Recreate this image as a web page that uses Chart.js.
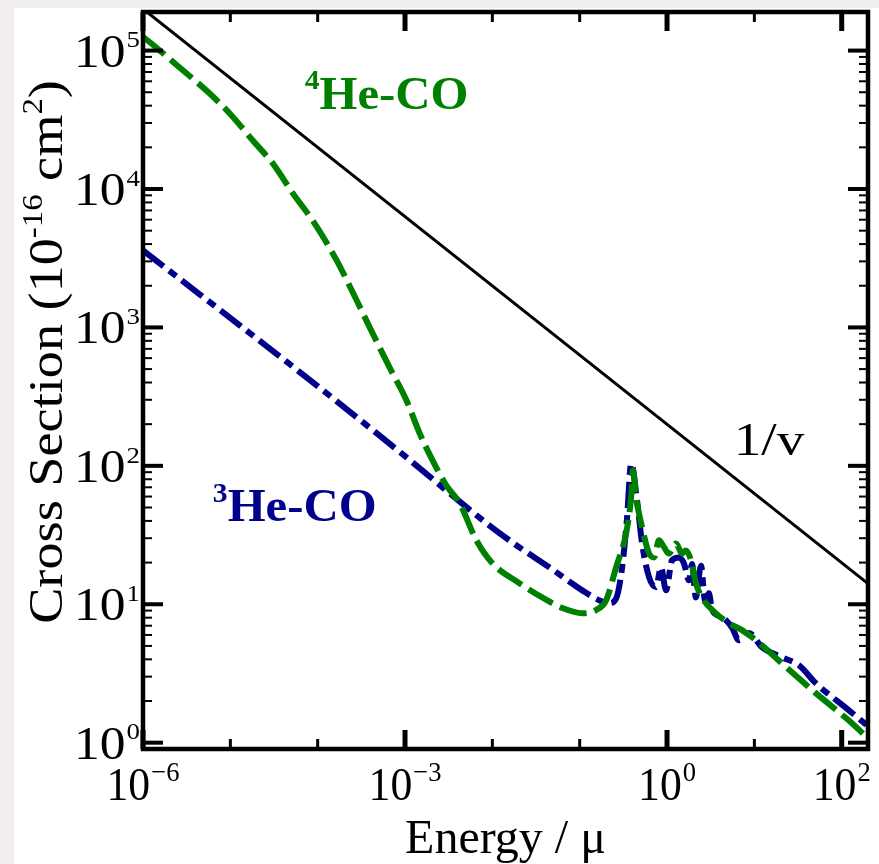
<!DOCTYPE html>
<html>
<head>
<meta charset="utf-8">
<script src="https://cdn.jsdelivr.net/npm/chart.js@4/dist/chart.umd.min.js"></script>
<style>
  body { margin: 0; background: #fff; }
  #wrap { width: 879px; height: 864px; }
</style>
</head>
<body>
<div id="wrap"><canvas id="xsChart" width="879" height="864"></canvas></div>
<script>
// Energy in units of mu, cross sections in 1e-16 cm^2

// 4He-CO
const energy4 = [1e-6, 1.56e-6, 2.86e-6, 5.4e-6, 9.9e-6, 1.81e-5, 3.06e-5, 5.2e-5, 8.8e-5,
  1.65e-4, 2.79e-4, 4.26e-4, 6.65e-4, 1.04e-3, 1.47e-3, 2.06e-3, 2.98e-3, 4.2e-3, 6.56e-3,
  0.01, 0.0204, 0.0372, 0.063, 0.107, 0.155, 0.201, 0.261, 0.34, 0.388, 0.408,
  0.443, 0.518, 0.622, 0.71, 0.81, 0.925, 1.05, 1.27, 1.48, 1.65, 1.88, 2.14, 2.51,
  3.63, 5.12, 7.2, 10.4, 20.6, 50.5, 120, 193];
const sigma4 = [1.26e5, 1.0e5, 7.2e4, 5.1e4, 3.5e4, 2.24e4, 1.53e4, 9.3e3, 5.9e3,
  3.05e3, 1.57e3, 906, 514, 297, 172, 110, 72, 54, 29,
  19.8, 14.2, 11.2, 9.4, 8.6, 9.1, 10.7, 18.5, 32.6, 59, 93,
  59, 36, 23.3, 21.8, 29, 25.8, 23.3, 27.5, 23.3, 24.5, 20.8, 14.2, 11.2,
  8.6, 7.3, 6.5, 5.5, 3.75, 2.28, 1.45, 1.1];

// 3He-CO
const energy3 = [1e-6, 8.8e-5, 1.04e-3, 4.2e-3, 9.2e-3, 0.0188, 0.0448, 0.107, 0.167,
  0.217, 0.261, 0.306, 0.349, 0.388, 0.454, 0.518, 0.622, 0.748, 0.853, 0.975,
  1.14, 1.37, 1.56, 1.78, 1.93, 2.14, 2.45, 2.72, 3.02, 3.27, 4.26, 5.53,
  6.65, 8.65, 12.2, 20.6, 32.3, 50.5, 120, 193];
const sigma3 = [3600, 401, 115, 55.4, 37.2, 26.7, 18.5, 12.6, 10.7,
  10.2, 11.0, 18.5, 42.5, 104, 56, 27.5, 15.7, 13.3, 18.5, 12.6,
  20.8, 21.8, 19.8, 14.9, 19.5, 11.2, 19.0, 10.7, 12.0, 9.1, 8.1, 6.8,
  5.5, 6.2, 4.9, 4.14, 3.63, 2.69, 1.72, 1.34];

// 1/v reference line
const energyV = [1e-6, 200];
const sigmaV = [2.0e5, 14.1];

// axis ranges and tick decades
const xMin = 1e-6, xMax = 200;
const yMin = 0.9, yMax = 1.9e5;
const xDecades = [-6, -5, -4, -3, -2, -1, 0, 1, 2];
const xLabelled = [-6, -3, 0, 2];
const xTickLabels = ['\u22126', '\u22123', '0', '2'];
const yDecades = [0, 1, 2, 3, 4, 5];
const yTickLabels = ['0', '1', '2', '3', '4', '5'];

const GREEN = '#008000';
const BLUE = '#00008b';
const SERIF = '"Liberation Serif", "Times New Roman", serif';

function pts(xs, ys) {
  return xs.map((x, i) => ({ x: x, y: ys[i] }));
}

// "10" with a raised exponent; anchor is the right edge or the centre
function drawPow(ctx, exp, x, y, size, supScale, align, sx) {
  const supSize = Math.round(size * supScale);
  ctx.font = size + 'px ' + SERIF;
  const wb = ctx.measureText('10').width;
  ctx.font = supSize + 'px ' + SERIF;
  const we = ctx.measureText(exp).width;
  const w = (wb + we + 1) * sx;
  const x0 = align === 'center' ? x - w / 2 : x - w;
  ctx.save();
  ctx.translate(x0, y);
  ctx.scale(sx, 1);
  ctx.font = size + 'px ' + SERIF;
  ctx.fillText('10', 0, 0);
  ctx.font = supSize + 'px ' + SERIF;
  ctx.fillText(exp, wb + 1, -size * 0.42);
  ctx.restore();
}

// text made of pieces, some of them superscripts
function drawRich(ctx, parts, x, y, size, weight, sx) {
  ctx.save();
  ctx.translate(x, y);
  ctx.scale(sx, 1);
  let cx = 0;
  parts.forEach(p => {
    const s = p.sup ? Math.round(size * 0.6) : size;
    ctx.font = weight + ' ' + s + 'px ' + SERIF;
    ctx.fillText(p.t, cx, p.sup ? -size * 0.42 : 0);
    cx += ctx.measureText(p.t).width;
  });
  ctx.restore();
}

function richWidth(ctx, parts, size, weight) {
  let w = 0;
  parts.forEach(p => {
    const s = p.sup ? Math.round(size * 0.6) : size;
    ctx.font = weight + ' ' + s + 'px ' + SERIF;
    w += ctx.measureText(p.t).width;
  });
  return w;
}

const backdrop = {
  id: 'backdrop',
  beforeDraw(chart) {
    const ctx = chart.ctx;
    ctx.save();
    ctx.fillStyle = '#f2eeed';
    ctx.fillRect(0, 0, chart.width, chart.height);
    ctx.fillStyle = '#ffffff';
    ctx.fillRect(14, 8, chart.width - 14, chart.height - 8);
    ctx.restore();
  }
};

const frame = {
  id: 'frame',
  afterDraw(chart) {
    const ctx = chart.ctx;
    const a = chart.chartArea;
    const xs = chart.scales.x, ys = chart.scales.y;
    ctx.save();
    ctx.strokeStyle = '#000';
    ctx.fillStyle = '#000';

    // y ticks on both sides, pointing inward
    yDecades.forEach(d => {
      const py = ys.getPixelForValue(Math.pow(10, d));
      ctx.fillRect(a.left, py - 2, 20, 4);
      ctx.fillRect(a.right - 20, py - 2, 20, 4);
      for (let m = 2; m <= 9; m++) {
        const v = m * Math.pow(10, d);
        if (v > yMax) break;
        const pm = ys.getPixelForValue(v);
        ctx.fillRect(a.left, pm - 1, 9, 2);
        ctx.fillRect(a.right - 9, pm - 1, 9, 2);
      }
    });

    // x ticks on bottom and top
    xDecades.forEach(d => {
      const px = xs.getPixelForValue(Math.pow(10, d));
      const big = xLabelled.includes(d);
      const len = big ? 19 : 10, w = big ? 5 : 3;
      ctx.fillRect(px - w / 2, a.bottom - len, w, len);
      ctx.fillRect(px - w / 2, a.top, w, len);
    });

    ctx.lineWidth = 4.5;
    ctx.strokeRect(a.left, a.top, a.right - a.left, a.bottom - a.top);

    // tick labels
    ctx.textAlign = 'left';
    ctx.textBaseline = 'alphabetic';
    yDecades.forEach((d, i) => {
      const py = ys.getPixelForValue(Math.pow(10, d));
      drawPow(ctx, yTickLabels[i], 140, py + 16, 46, 0.52, 'right', 1.12);
    });
    xLabelled.forEach((d, i) => {
      const px = xs.getPixelForValue(Math.pow(10, d));
      drawPow(ctx, xTickLabels[i], px, 800, 46, 0.6, 'center', 0.95);
    });

    // axis titles
    ctx.font = '48px ' + SERIF;
    ctx.textAlign = 'center';
    ctx.fillText('Energy / \u03bc', (a.left + a.right) / 2, 853);

    const yTitle = [{ t: 'Cross Section (10' }, { t: '-16', sup: true }, { t: ' cm' }, { t: '2', sup: true }, { t: ')' }];
    ctx.textAlign = 'left';
    ctx.translate(62, 352);
    ctx.rotate(-Math.PI / 2);
    const tw = richWidth(ctx, yTitle, 48, 'normal') * 1.13;
    drawRich(ctx, yTitle, -tw / 2, 0, 48, 'normal', 1.13);
    ctx.restore();

    // curve labels, anchored in data space
    ctx.save();
    ctx.textAlign = 'left';
    ctx.fillStyle = GREEN;
    drawRich(ctx, [{ t: '4', sup: true }, { t: 'He-CO' }],
      xs.getPixelForValue(7.1e-5), ys.getPixelForValue(3.8e4), 46, 'bold', 1.06);
    ctx.fillStyle = BLUE;
    drawRich(ctx, [{ t: '3', sup: true }, { t: 'He-CO' }],
      xs.getPixelForValue(6.3e-6), ys.getPixelForValue(40), 46, 'bold', 1.06);
    ctx.fillStyle = '#000';
    drawRich(ctx, [{ t: '1/v' }],
      xs.getPixelForValue(5.8), ys.getPixelForValue(119), 46, 'normal', 1.2);
    ctx.restore();
  }
};

new Chart(document.getElementById('xsChart'), {
  type: 'scatter',
  data: {
    datasets: [{
      label: '1/v',
      data: pts(energyV, sigmaV),
      showLine: true,
      borderColor: '#000',
      borderWidth: 3,
      pointRadius: 0
    }, {
      label: '4He-CO',
      data: pts(energy4, sigma4),
      showLine: true,
      borderColor: GREEN,
      borderWidth: 6,
      borderDash: [28, 8],
      cubicInterpolationMode: 'monotone',
      pointRadius: 0
    }, {
      label: '3He-CO',
      data: pts(energy3, sigma3),
      showLine: true,
      borderColor: BLUE,
      borderWidth: 6,
      borderDash: [26, 7, 9, 7],
      cubicInterpolationMode: 'monotone',
      pointRadius: 0
    }]
  },
  options: {
    responsive: false,
    animation: false,
    devicePixelRatio: 1,
    layout: { padding: { left: 143, right: 11, top: 12, bottom: 115 } },
    plugins: { legend: { display: false }, tooltip: { enabled: false } },
    scales: {
      x: { type: 'logarithmic', min: xMin, max: xMax, display: false },
      y: { type: 'logarithmic', min: yMin, max: yMax, display: false }
    }
  },
  plugins: [backdrop, frame]
});
</script>
</body>
</html>
